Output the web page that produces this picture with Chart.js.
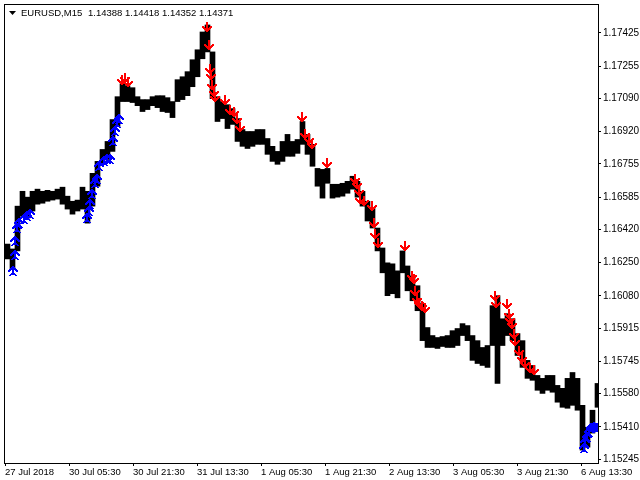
<!DOCTYPE html>
<html lang="en">
<head>
    <meta charset="UTF-8">
    <title>EURUSD M15</title>
    <script src="https://cdn.jsdelivr.net/npm/chart.js"></script>
    <style>
        body { margin: 0; background: #fff; }
    </style>
</head>
<body>
    <canvas id="priceChart" width="640" height="480"></canvas>

    <script>
        // header line of the chart window
        const symbolName = 'EURUSD,M15';
        const symbolQuotes = '1.14388 1.14418 1.14352 1.14371';

        // each column = 5 M15 bars, high / low
        const BARS_PER_COL = 5;
        const highs = [
            1.16345, 1.16320, 1.16539, 1.16615, 1.16585, 1.16615, 1.16626, 1.16615, 1.16620, 1.16615,
            1.16626, 1.16636, 1.16590, 1.16564, 1.16570, 1.16636, 1.16615, 1.16707, 1.16768, 1.16829,
            1.16870, 1.16982, 1.17099, 1.17165, 1.17155, 1.17145, 1.17099, 1.17084, 1.17084, 1.17099,
            1.17104, 1.17104, 1.17094, 1.17074, 1.17186, 1.17201, 1.17227, 1.17288, 1.17339, 1.17430,
            1.17466, 1.17328, 1.17099, 1.17074, 1.17058, 1.17038, 1.16987, 1.16931, 1.16921, 1.16921,
            1.16931, 1.16931, 1.16885, 1.16845, 1.16819, 1.16870, 1.16906, 1.16870, 1.16880, 1.16972,
            1.16906, 1.16855, 1.16732, 1.16727, 1.16732, 1.16651, 1.16651, 1.16656, 1.16666, 1.16692,
            1.16666, 1.16615, 1.16564, 1.16529, 1.16427, 1.16325, 1.16249, 1.16244, 1.16208, 1.16310,
            1.16233, 1.16182, 1.16132, 1.16040, 1.15918, 1.15877, 1.15867, 1.15872, 1.15877, 1.15902,
            1.15913, 1.15938, 1.15928, 1.15877, 1.15851, 1.15816, 1.15826, 1.16030, 1.16081, 1.15963,
            1.15989, 1.15963, 1.15887, 1.15851, 1.15750, 1.15724, 1.15673, 1.15658, 1.15673, 1.15673,
            1.15622, 1.15607, 1.15658, 1.15688, 1.15658, 1.15520, 1.15408, 1.15495, 1.15632
        ];
        const lows = [
            1.16269, 1.16218, 1.16310, 1.16488, 1.16478, 1.16514, 1.16549, 1.16554, 1.16564, 1.16570,
            1.16575, 1.16549, 1.16524, 1.16498, 1.16514, 1.16524, 1.16452, 1.16539, 1.16641, 1.16753,
            1.16778, 1.16819, 1.16946, 1.17074, 1.17074, 1.17069, 1.17053, 1.17023, 1.17033, 1.17053,
            1.17043, 1.17023, 1.17018, 1.16992, 1.17074, 1.17084, 1.17104, 1.17150, 1.17201, 1.17293,
            1.17328, 1.17089, 1.16972, 1.16987, 1.16936, 1.16957, 1.16870, 1.16845, 1.16834, 1.16845,
            1.16855, 1.16855, 1.16804, 1.16768, 1.16753, 1.16768, 1.16794, 1.16794, 1.16809, 1.16855,
            1.16804, 1.16743, 1.16641, 1.16580, 1.16656, 1.16580, 1.16585, 1.16590, 1.16605, 1.16626,
            1.16585, 1.16539, 1.16463, 1.16427, 1.16310, 1.16198, 1.16081, 1.16091, 1.16070, 1.16198,
            1.16106, 1.16055, 1.16004, 1.15851, 1.15816, 1.15816, 1.15811, 1.15821, 1.15816, 1.15816,
            1.15826, 1.15877, 1.15851, 1.15750, 1.15734, 1.15724, 1.15714, 1.15826, 1.15632, 1.15826,
            1.15877, 1.15851, 1.15775, 1.15714, 1.15658, 1.15648, 1.15597, 1.15581, 1.15597, 1.15587,
            1.15536, 1.15510, 1.15505, 1.15520, 1.15495, 1.15291, 1.15306, 1.15378, 1.15510
        ];

        // sell signals (red down arrows): bar number, price
        const sellBars = [117, 120, 123, 202, 204, 205, 206, 207, 209, 210, 220, 225, 229, 232, 235,
            297, 300, 304, 307, 322, 350, 352, 354, 355, 359, 367, 369, 370, 373,
            400, 407, 409, 410, 412, 414, 417, 420,
            490, 491, 502, 504, 505, 507, 509, 510, 514, 517, 520, 525, 529];
        const sellPrices = [1.17186, 1.17196, 1.17176, 1.17456, 1.17364, 1.17242, 1.17211, 1.17160, 1.17125, 1.17099, 1.17084, 1.17033, 1.17023, 1.16987, 1.16946,
            1.16997, 1.16906, 1.16885, 1.16855, 1.16758, 1.16676, 1.16651, 1.16615, 1.16575, 1.16564, 1.16539, 1.16452, 1.16396, 1.16350,
            1.16335, 1.16182, 1.16167, 1.16106, 1.16065, 1.16045, 1.16030, 1.16019,
            1.16081, 1.16045, 1.16040, 1.15989, 1.15963, 1.15938, 1.15887, 1.15851, 1.15800, 1.15760, 1.15739, 1.15709, 1.15699];

        // buy signals (blue up arrows)
        const buyBars = [8, 10, 10, 12, 14, 19, 22, 25,
            82, 84, 85, 87, 90, 92, 94, 99, 102, 105, 108, 110, 112, 114,
            579, 580, 582, 584, 586, 589, 592];
        const buyPrices = [1.16208, 1.16289, 1.16361, 1.16427, 1.16452, 1.16473, 1.16488, 1.16498,
            1.16478, 1.16514, 1.16549, 1.16600, 1.16656, 1.16676, 1.16743, 1.16768, 1.16778, 1.16778, 1.16870, 1.16921, 1.16962, 1.16987,
            1.15301, 1.15332, 1.15357, 1.15383, 1.15403, 1.15408, 1.15403];

        // axis labels
        const priceTicks = [1.17425, 1.17255, 1.17090, 1.16920, 1.16755, 1.16585, 1.16420,
            1.16250, 1.16080, 1.15915, 1.15745, 1.15580, 1.15410, 1.15245];
        const timeTickBars = [0, 64, 128, 192, 256, 320, 384, 448, 512, 576];
        const timeLabels = ['27 Jul 2018', '30 Jul 05:30', '30 Jul 21:30', '31 Jul 13:30', '1 Aug 05:30',
            '1 Aug 21:30', '2 Aug 13:30', '3 Aug 05:30', '3 Aug 21:30', '6 Aug 13:30'];

        // pixel arrow glyphs, like the terminal's wingdings arrows
        const DOWN_GLYPH = [
            '....##....',
            '....##....',
            '....##....',
            '....##....',
            '##..##..##',
            '###.##.###',
            '.########.',
            '..######..',
            '...####...',
            '....##....'
        ];
        const UP_GLYPH = [
            '....##....',
            '...####...',
            '..######..',
            '.########.',
            '###.##.###',
            '##..##..##',
            '....##....',
            '...####...',
            '..######..',
            '.##....##.'
        ];
        function makeGlyph(rows, color) {
            const c = document.createElement('canvas');
            c.width = rows[0].length; c.height = rows.length;
            const g = c.getContext('2d');
            g.fillStyle = color;
            rows.forEach((r, y) => {
                for (let x = 0; x < r.length; x++) if (r[x] === '#') g.fillRect(x, y, 1, 1);
            });
            return c;
        }
        const downArrow = makeGlyph(DOWN_GLYPH, '#ff0000');
        const upArrow = makeGlyph(UP_GLYPH, '#0000ff');

        const candles = highs.map((h, i) => ({ x: i * BARS_PER_COL + BARS_PER_COL / 2, y: [lows[i], h] }));

        // frame + header text
        const framePlugin = {
            id: 'frame',
            beforeDatasetsDraw(chart) {
                chart.ctx.imageSmoothingEnabled = false;
            },
            afterDraw(chart) {
                const { ctx, chartArea: a } = chart;
                ctx.save();
                ctx.strokeStyle = '#000';
                ctx.lineWidth = 1;
                ctx.strokeRect(a.left - 0.5, a.top - 0.5, a.right - a.left + 1, a.bottom - a.top + 1);
                ctx.fillStyle = '#000';
                ctx.beginPath();
                ctx.moveTo(a.left + 4, a.top + 6);
                ctx.lineTo(a.left + 11, a.top + 6);
                ctx.lineTo(a.left + 7.5, a.top + 10);
                ctx.closePath();
                ctx.fill();
                ctx.font = '9.5px "Liberation Sans"';
                ctx.textBaseline = 'middle';
                ctx.fillText(symbolName, a.left + 16, a.top + 8);
                ctx.fillText(symbolQuotes, a.left + 83, a.top + 8);
                ctx.restore();
            }
        };

        Chart.defaults.font.family = '"Liberation Sans", sans-serif';
        Chart.defaults.font.size = 10;
        Chart.defaults.color = '#000';

        new Chart(document.getElementById('priceChart'), {
            type: 'bar',
            data: {
                datasets: [{
                    type: 'scatter',
                    data: sellBars.map((b, i) => ({ x: b, y: sellPrices[i] })),
                    pointStyle: downArrow,
                    order: 0
                }, {
                    type: 'scatter',
                    data: buyBars.map((b, i) => ({ x: b, y: buyPrices[i] })),
                    pointStyle: upArrow,
                    order: 0
                }, {
                    data: candles,
                    backgroundColor: '#000',
                    borderWidth: 0,
                    barPercentage: 1,
                    categoryPercentage: 1,
                    order: 1
                }]
            },
            options: {
                responsive: false,
                animation: false,
                layout: { padding: { left: 3, top: 3, right: 0, bottom: 0 } },
                plugins: { legend: { display: false }, tooltip: { enabled: false } },
                scales: {
                    x: {
                        type: 'linear',
                        offset: false,
                        min: 0,
                        max: 593,
                        grid: { offset: false, drawOnChartArea: false, tickLength: 3, color: '#000' },
                        border: { color: '#000' },
                        afterBuildTicks: s => { s.ticks = timeTickBars.map(v => ({ value: v })); },
                        afterFit: s => { s.height = 17; s.paddingLeft = 0; s.paddingRight = 0; },
                        ticks: {
                            autoSkip: false,
                            maxRotation: 0,
                            align: 'start',
                            labelOffset: 0,
                            padding: 1,
                            font: { size: 9.5 },
                            callback: (v, i) => timeLabels[i]
                        }
                    },
                    y: {
                        position: 'right',
                        min: 1.15225,
                        max: 1.17568,
                        grid: { drawOnChartArea: false, tickLength: 3, color: '#000' },
                        border: { color: '#000' },
                        afterBuildTicks: s => { s.ticks = priceTicks.map(v => ({ value: v })); },
                        afterFit: s => { s.width = 42; s.paddingTop = 0; s.paddingBottom = 0; },
                        ticks: {
                            padding: 2,
                            callback: v => v.toFixed(5)
                        }
                    }
                }
            },
            plugins: [framePlugin]
        });
    </script>
</body>
</html>
